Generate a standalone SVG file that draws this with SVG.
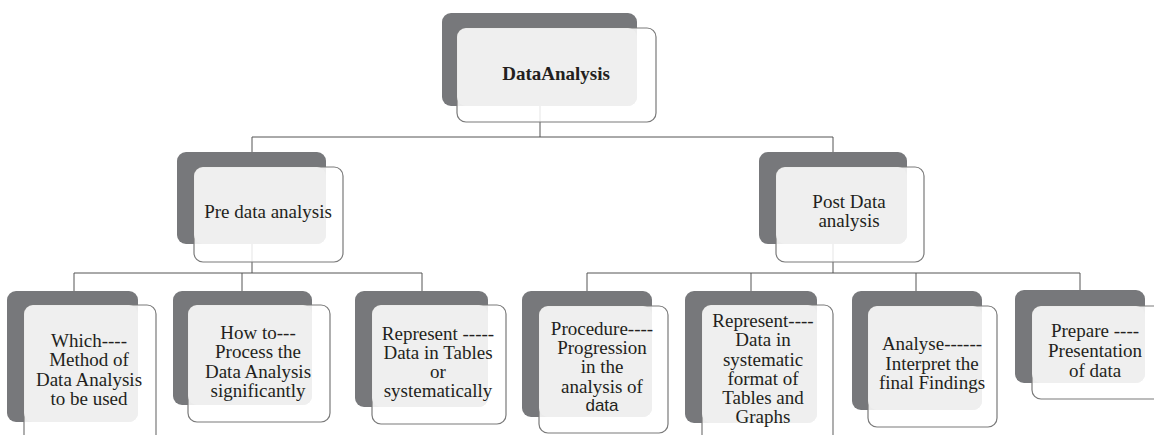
<svg xmlns="http://www.w3.org/2000/svg" width="1154" height="435" viewBox="0 0 1154 435">
  <style>
    .back { fill: #77787b; }
    .front { fill: #ffffff; fill-opacity: 0.85; stroke: #7a7a7a; stroke-width: 1.2; }
    .overlap { fill: #efefef; fill-opacity: 0.95; }
    .wire { fill: none; stroke: #555555; stroke-width: 1; }
    text { font-family: "Liberation Serif", "DejaVu Serif", "Noto Serif", serif; font-size: 19px; fill: #231f20; text-anchor: middle; }
    .title { font-weight: bold; }
    .sans { font-family: "Liberation Sans", "DejaVu Sans", sans-serif; font-size: 17px; }
  </style>

  <rect width="1154" height="435" fill="#ffffff"/>

  <!-- connectors -->
  <g id="connectors" class="wire">
    <path d="M540 106 V137 M252 137 H833 M252 137 V152 M833 137 V152"/>
    <path d="M252 244 V273 M74 273 H422 M74 273 V291 M242 273 V291 M422 273 V291"/>
    <path d="M833 244 V273 M587 273 H1080 M587 273 V291 M751 273 V291 M916 273 V291 M1080 273 V291"/>
  </g>

  <!-- root -->
  <g id="node-root">
    <rect class="back" x="442" y="13" width="195" height="93" rx="9"/>
    <rect class="front" x="457" y="28" width="199" height="94" rx="9"/>
    <rect class="overlap" x="457" y="28" width="180" height="78" rx="9"/>
    <text class="title" x="556" y="80">DataAnalysis</text>
  </g>

  <!-- second level -->
  <g id="node-pre">
    <rect class="back" x="177" y="152" width="149" height="92" rx="9"/>
    <rect class="front" x="194" y="167" width="149" height="95" rx="9"/>
    <rect class="overlap" x="194" y="167" width="132" height="77" rx="9"/>
    <text x="268" y="218">Pre data analysis</text>
  </g>

  <g id="node-post">
    <rect class="back" x="759" y="152" width="148" height="92" rx="9"/>
    <rect class="front" x="776" y="167" width="148" height="95" rx="9"/>
    <rect class="overlap" x="776" y="167" width="131" height="77" rx="9"/>
    <text x="849" y="208">Post Data</text>
    <text x="849" y="227">analysis</text>
  </g>

  <!-- third level, pre -->
  <g id="node-which">
    <rect class="back" x="7" y="291" width="131" height="131" rx="9"/>
    <rect class="front" x="24" y="305" width="132" height="145" rx="9"/>
    <rect class="overlap" x="24" y="305" width="114" height="117" rx="9"/>
    <text x="89" y="347">Which----</text>
    <text x="89" y="366">Method of</text>
    <text x="89" y="386">Data Analysis</text>
    <text x="89" y="405">to be used</text>
  </g>

  <g id="node-how">
    <rect class="back" x="173" y="291" width="139" height="114" rx="9"/>
    <rect class="front" x="188" y="305" width="142" height="117" rx="9"/>
    <rect class="overlap" x="188" y="305" width="124" height="100" rx="9"/>
    <text x="258" y="339">How to---</text>
    <text x="258" y="358">Process the</text>
    <text x="258" y="378">Data Analysis</text>
    <text x="258" y="397">significantly</text>
  </g>

  <g id="node-represent">
    <rect class="back" x="355" y="291" width="133" height="116" rx="9"/>
    <rect class="front" x="372" y="305" width="134" height="119" rx="9"/>
    <rect class="overlap" x="372" y="305" width="116" height="102" rx="9"/>
    <text x="438" y="340">Represent -----</text>
    <text x="438" y="359">Data in Tables</text>
    <text x="438" y="378">or</text>
    <text x="438" y="397">systematically</text>
  </g>

  <!-- third level, post -->
  <g id="node-procedure">
    <rect class="back" x="522" y="291" width="130" height="126" rx="9"/>
    <rect class="front" x="539" y="306" width="129" height="127" rx="9"/>
    <rect class="overlap" x="539" y="306" width="113" height="111" rx="9"/>
    <text x="602" y="335">Procedure----</text>
    <text x="602" y="354">Progression</text>
    <text x="602" y="373">in the</text>
    <text x="602" y="393">analysis of</text>
    <text class="sans" x="602" y="411">data</text>
  </g>

  <g id="node-represent-format">
    <rect class="back" x="685" y="291" width="132" height="132" rx="9"/>
    <rect class="front" x="702" y="305" width="131" height="145" rx="9"/>
    <rect class="overlap" x="702" y="305" width="115" height="118" rx="9"/>
    <text x="763" y="327">Represent----</text>
    <text x="763" y="346">Data in</text>
    <text x="763" y="366">systematic</text>
    <text x="763" y="385">format of</text>
    <text x="763" y="404">Tables and</text>
    <text x="763" y="423">Graphs</text>
  </g>

  <g id="node-analyse">
    <rect class="back" x="852" y="291" width="130" height="119" rx="9"/>
    <rect class="front" x="868" y="306" width="129" height="121" rx="9"/>
    <rect class="overlap" x="868" y="306" width="114" height="104" rx="9"/>
    <text x="932" y="350">Analyse------</text>
    <text x="932" y="370">Interpret the</text>
    <text x="932" y="389">final Findings</text>
  </g>

  <g id="node-prepare">
    <rect class="back" x="1015" y="290" width="130" height="93" rx="9"/>
    <rect class="front" x="1032" y="306" width="140" height="93" rx="9"/>
    <rect class="overlap" x="1032" y="306" width="113" height="77" rx="9"/>
    <text x="1095" y="337">Prepare ----</text>
    <text x="1095" y="357">Presentation</text>
    <text x="1095" y="377">of data</text>
  </g>
</svg>
